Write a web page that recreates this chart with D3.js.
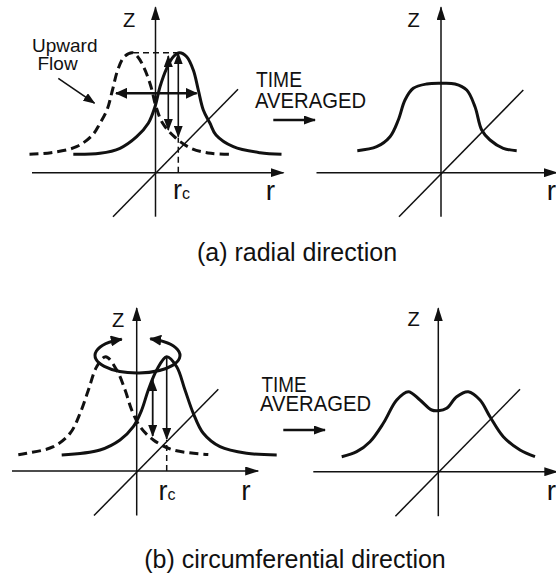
<!DOCTYPE html>
<html>
<head>
<meta charset="utf-8">
<script src="https://cdn.jsdelivr.net/npm/d3@7"></script>
<style>
body { margin: 0; background: #fff; }
svg text { font-family: "Liberation Sans", Arial, Helvetica, sans-serif; fill: #111; }
</style>
</head>
<body>
<div id="chart"></div>
<script>
// profiles, as (r, z) in panel units (1 unit ~ 10px)
// (a) radial: instantaneous jet, jet displaced to the other side, time average
var radialNow = [[-8.22,1.84],[-5.55,1.94],[-3.55,2.44],[-1.88,3.6],[-0.72,4.94],[-0.05,6.6],[0.45,8.6],[1.12,10.44],
    [1.78,11.6],[2.4,12.0],[3.12,11.6],[3.78,10.27],[4.28,8.27],[4.78,6.27],[5.45,4.94],[6.05,3.77],[7.78,2.6],[10.45,2.0],[12.6,1.84]];
var radialPrev = [[-12.6,1.84],[-10.45,2.0],[-7.9,2.6],[-6.3,3.77],[-5.55,4.94],[-4.85,6.27],[-4.3,8.27],[-3.78,10.27],
    [-3.12,11.6],[-2.3,12.0],[-1.78,11.6],[-1.12,10.44],[-0.45,8.6],[0.05,6.6],[0.72,4.94],[1.88,3.6],[3.55,2.44],[5.55,1.94],[7.78,1.84]];
var radialAvg = [[-8.37,2.2],[-6.43,2.6],[-5.1,3.6],[-4.27,5.27],[-3.6,7.27],[-2.77,8.44],[-1.43,8.87],[0,8.94],
    [1.4,8.87],[2.57,8.27],[3.4,6.6],[4.07,4.27],[4.9,3.27],[6.23,2.44],[7.57,2.2]];

// (b) circumferential
var circNow = [[-7.5,1.6],[-3.67,2.1],[-1.67,3.1],[-0.34,4.43],[0.5,6.1],[1.16,8.1],[2.0,10.1],[3.0,11.43],
    [4.0,10.43],[4.83,8.1],[5.66,5.77],[6.66,3.77],[8.33,2.43],[11.0,1.77],[14.0,1.6]];
var circPrev = [[-11.84,1.62],[-11.0,1.77],[-8.33,2.43],[-6.66,3.77],[-5.66,5.77],[-4.83,8.1],[-4.0,10.43],[-3.1,11.43],
    [-2.0,10.1],[-1.16,8.1],[-0.5,6.1],[0.34,4.43],[1.67,3.1],[3.67,2.1],[7.16,1.65]];
var circAvg = [[-9.66,1.5],[-8.16,2.0],[-6.83,3.0],[-5.5,4.84],[-4.16,7.17],[-3.0,8.0],[-1.83,7.17],[-0.66,6.17],[0,6.1],
    [0.84,6.34],[1.84,7.5],[3.0,8.0],[4.17,7.17],[5.17,5.5],[6.5,3.5],[8.17,2.17],[9.67,1.5]];

var captions = ["(a) radial direction", "(b) circumferential direction"];
var avgLabel = ["TIME", "AVERAGED"];
var flowLabel = ["Upward", "Flow"];

var W = 556, H = 576;
var ink = "#111";

var svg = d3.select("#chart").append("svg")
    .attr("width", W).attr("height", H);

var defs = svg.append("defs");
function marker(id, len, wid) {
    defs.append("marker").attr("id", id)
        .attr("viewBox", "0 0 " + len + " " + wid)
        .attr("refX", len - 1).attr("refY", wid / 2)
        .attr("markerWidth", len).attr("markerHeight", wid)
        .attr("markerUnits", "userSpaceOnUse")
        .attr("orient", "auto-start-reverse")
        .append("path")
        .attr("d", "M0,0L" + len + "," + (wid / 2) + "L0," + wid + "Z")
        .attr("fill", ink);
}
marker("axisHead", 14, 9);
marker("head", 12, 9);
marker("wideHead", 12, 11);

// one little r-z frame
Panel = function(ox, oy) {
    var p = this;
    p.x = d3.scaleLinear().domain([-10, 10]).range([ox - 100, ox + 100]);
    p.z = d3.scaleLinear().domain([0, 10]).range([oy, oy - 100]);
    p.g = svg.append("g");
    p.line = d3.line().x(function(d) { return p.x(d[0]); }).y(function(d) { return p.z(d[1]); });
    p.smooth = d3.line().curve(d3.curveCatmullRom.alpha(0.5))
        .x(function(d) { return p.x(d[0]); }).y(function(d) { return p.z(d[1]); });
}

Panel.prototype.seg = function(pts, w, opt) {
    opt = opt || {};
    var path = this.g.append("path")
        .attr("d", this.line(pts))
        .attr("fill", "none").attr("stroke", ink)
        .attr("stroke-width", w);
    if (opt.dash) path.attr("stroke-dasharray", opt.dash);
    if (opt.start) path.attr("marker-start", "url(#" + opt.start + ")");
    if (opt.end) path.attr("marker-end", "url(#" + opt.end + ")");
    return path;
}

Panel.prototype.axes = function(rExt, zExt, diag) {
    this.seg([[rExt[0], 0], [rExt[1], 0]], 1.5, {end: "axisHead"});
    this.seg([[0, zExt[0]], [0, zExt[1]]], 1.5, {end: "axisHead"});
    this.seg(diag, 1.5);
}

Panel.prototype.profile = function(data, dashed) {
    var path = this.g.append("path")
        .attr("d", this.smooth(data))
        .attr("fill", "none").attr("stroke", ink)
        .attr("stroke-width", 3)
        .attr("stroke-linejoin", "round");
    if (dashed) path.attr("stroke-dasharray", "9,5");
}

function label(x, y, txt, size, anchor) {
    return svg.append("text")
        .attr("x", x).attr("y", y)
        .attr("font-size", size + "px")
        .attr("text-anchor", anchor || "middle")
        .text(txt);
}

function rcLabel(x, y) {
    var t = svg.append("text").attr("x", x).attr("y", y).attr("font-size", "27px");
    t.append("tspan").text("r");
    t.append("tspan").attr("font-size", "16px").text("c");
}

// ---------- (a) radial direction ----------
var aL = new Panel(155.5, 172.7);
aL.axes([-12.35, 12.8], [-4.4, 16.55], [[-4.25, -4.4], [8.25, 8.35]]);
aL.profile(radialPrev, true);
aL.profile(radialNow, false);
aL.seg([[-2.25, 12.0], [2.4, 12.0]], 1.5, {dash: "6,4"});
aL.seg([[2.28, 0], [2.28, 3.5]], 1.5, {dash: "6,4"});
aL.seg([[2.28, 3.6], [2.28, 11.94]], 1.6, {start: "head", end: "head"});
aL.seg([[1.28, 4.27], [1.28, 11.67]], 1.6, {start: "head", end: "head"});
aL.seg([[-3.95, 7.94], [4.12, 7.94]], 2.5, {start: "wideHead", end: "wideHead"});
aL.seg([[-9.72, 9.44], [-6.1, 6.95]], 1.6, {end: "head"});

var aR = new Panel(441, 172.7);
aR.axes([-12.45, 11.6], [-4.4, 16.55], [[-4.2, -4.4], [8.23, 8.27]]);
aR.profile(radialAvg, false);
aR.seg([[-16.77, 5.27], [-12.6, 5.27]], 2.5, {end: "head"});

label(129, 27, "Z", 20);
label(413.5, 27, "Z", 20);
label(270.5, 200, "r", 28);
label(556, 200, "r", 28, "end");
rcLabel(173, 199);
label(32, 52, flowLabel[0], 19, "start");
label(37.5, 70, flowLabel[1], 19, "start");
label(256, 87, avgLabel[0], 22, "start").attr("textLength", 46).attr("lengthAdjust", "spacingAndGlyphs");
label(255, 107.5, avgLabel[1], 22, "start").attr("textLength", 111).attr("lengthAdjust", "spacingAndGlyphs");
label(297, 261, captions[0], 25);

// ---------- (b) circumferential direction ----------
var bL = new Panel(136.7, 471);
bL.axes([-12.47, 12.15], [-4.45, 16.3], [[-4.27, -4.45], [8.16, 8.17]]);
bL.profile(circPrev, true);
bL.profile(circNow, false);

// swirl of the jet round the axis: ellipse with both ends arrowed
var ex = bL.x(0.08), ey = bL.z(11.55);
var erx = bL.x(4.25) - bL.x(0), ery = bL.z(0) - bL.z(1.75);
var sx = ex - 0.37 * erx, sy = ey - ery * Math.sqrt(1 - 0.37 * 0.37);
var tx = ex + 0.3 * erx, ty = ey - ery * Math.sqrt(1 - 0.3 * 0.3);
bL.g.append("path")
    .attr("d", "M" + sx + "," + sy + "A" + erx + "," + ery + " 0 1 0 " + tx + "," + ty)
    .attr("fill", "none").attr("stroke", ink).attr("stroke-width", 3)
    .attr("marker-start", "url(#wideHead)")
    .attr("marker-end", "url(#wideHead)");

bL.seg([[3.0, 0], [3.0, 3.1]], 1.5, {dash: "6,4"});
bL.seg([[3.0, 11.3], [3.0, 3.2]], 1.6, {end: "head"});
bL.seg([[1.6, 9.1], [1.6, 3.5]], 1.8, {start: "head", end: "head"});

var bR = new Panel(438.3, 471.7);
bR.axes([-12.5, 11.9], [-4.45, 16.35], [[-4.29, -4.45], [8.17, 8.24]]);
bR.profile(circAvg, false);
bR.seg([[-15.5, 4.17], [-11.33, 4.17]], 2.5, {end: "head"});

label(118, 327, "Z", 20);
label(413.5, 326, "Z", 20);
label(246, 500, "r", 28);
label(556, 500, "r", 28, "end");
rcLabel(158.5, 500);
label(261.5, 392, avgLabel[0], 22, "start").attr("textLength", 45).attr("lengthAdjust", "spacingAndGlyphs");
label(260, 410.5, avgLabel[1], 22, "start").attr("textLength", 111).attr("lengthAdjust", "spacingAndGlyphs");
label(295, 568, captions[1], 25);
</script>
</body>
</html>
